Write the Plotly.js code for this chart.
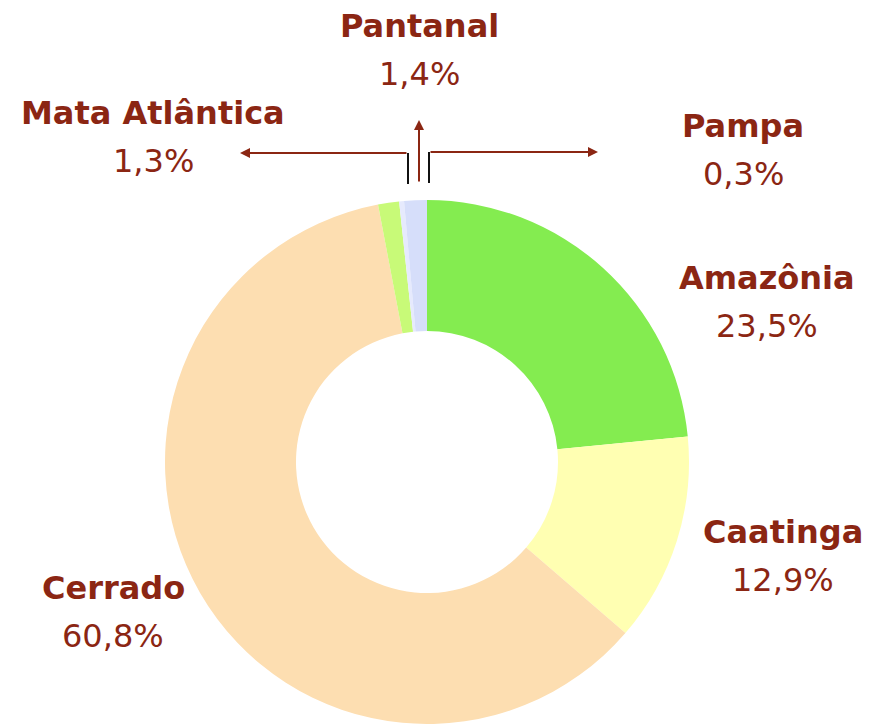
<!DOCTYPE html>
<html><head><meta charset="utf-8">
<script src="https://cdn.plot.ly/plotly-3.0.1.min.js"></script>
<style>html,body{margin:0;padding:0;background:#fff}#chart{width:869px;height:724px}</style>
</head><body><div id="chart"></div>
<script>
const biomes = ["Amazônia", "Caatinga", "Cerrado", "Mata Atlântica", "Pampa", "Pantanal"];
const shares = [23.5, 12.9, 60.8, 1.3, 0.3, 1.4];
const shareLabels = ["23,5%", "12,9%", "60,8%", "1,3%", "0,3%", "1,4%"];
const colors = ["#84EC50", "#FFFFB2", "#FDDEB1", "#C8FA78", "#E6EAFD", "#D6DEFA"];

const W = 869, H = 724;
const px = x => x / W;
const py = y => 1 - y / H;
const red = "#8B2613";

// label centres (pixel positions) for each biome
const labelPos = {
  "Amazônia": [767, 278],
  "Caatinga": [783, 532],
  "Cerrado": [113, 588],
  "Mata Atlântica": [153, 113],
  "Pampa": [743, 126],
  "Pantanal": [419, 26]
};

const annotations = [];
biomes.forEach((b, i) => {
  const [cx, cy] = labelPos[b];
  annotations.push({xref: 'paper', yref: 'paper', x: px(cx), y: py(cy), text: '<b>' + b + '</b>',
    showarrow: false, xanchor: 'center', yanchor: 'middle',
    font: {family: 'DejaVu Sans', size: 32, color: red}});
  annotations.push({xref: 'paper', yref: 'paper', x: px(cx), y: py(cy + 48), text: shareLabels[i],
    showarrow: false, xanchor: 'center', yanchor: 'middle',
    font: {family: 'DejaVu Sans', size: 32, color: red}});
});
// arrows
annotations.push({xref: 'paper', yref: 'paper', x: px(240), y: py(153), ax: 168, ay: 0, text: '',
  showarrow: true, arrowhead: 2, arrowsize: 1, arrowwidth: 2, arrowcolor: red});
annotations.push({xref: 'paper', yref: 'paper', x: px(419), y: py(120), ax: 0, ay: 63, text: '',
  showarrow: true, arrowhead: 2, arrowsize: 1, arrowwidth: 2, arrowcolor: red});
annotations.push({xref: 'paper', yref: 'paper', x: px(598), y: py(152), ax: -169, ay: 0, text: '',
  showarrow: true, arrowhead: 2, arrowsize: 1, arrowwidth: 2, arrowcolor: red});

const shapes = [
  {type: 'line', xref: 'paper', yref: 'paper', x0: px(408), y0: py(153), x1: px(408), y1: py(184), line: {color: '#111', width: 2}},
  {type: 'line', xref: 'paper', yref: 'paper', x0: px(429), y0: py(152), x1: px(429), y1: py(183), line: {color: '#111', width: 2}}
];

Plotly.newPlot('chart', [{
  type: 'pie', labels: biomes, values: shares, sort: false, direction: 'clockwise', rotation: 0,
  hole: 0.5, textinfo: 'none', hoverinfo: 'skip',
  marker: {colors: colors, line: {width: 0}},
  domain: {x: [px(165), px(689)], y: [0, py(200)]}
}], {
  width: W, height: H, margin: {l: 0, r: 0, t: 0, b: 0},
  paper_bgcolor: '#fff', showlegend: false,
  annotations: annotations, shapes: shapes
}, {displayModeBar: false, staticPlot: true});
</script></body></html>
